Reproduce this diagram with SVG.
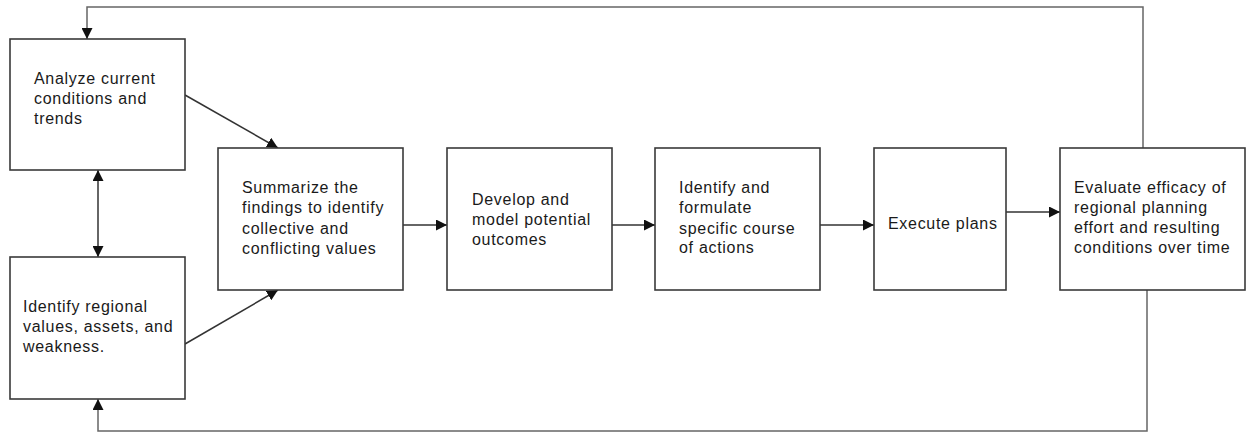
<svg xmlns="http://www.w3.org/2000/svg" width="1249" height="432" viewBox="0 0 1249 432">
<style>
.box{fill:#fff;stroke:#3a3a3a;stroke-width:1.6}
.t{font-family:"Liberation Sans",Arial,sans-serif;font-size:16px;letter-spacing:0.7px;fill:#1a1a1a}
.c{fill:none;stroke:#333;stroke-width:1.5}
.g{fill:none;stroke:#666;stroke-width:1.5}
</style>
<defs>
<marker id="ah" viewBox="0 0 10 10" refX="10" refY="5" markerWidth="11" markerHeight="11" markerUnits="userSpaceOnUse" orient="auto-start-reverse">
<path d="M0,0 L10,5 L0,10 z" fill="#111"/>
</marker>
</defs>
<g id="connectors">
<polyline class="g" points="1143,148 1143,7 87,7 87,39" marker-end="url(#ah)"/>
<polyline class="g" points="1147,290 1147,431 98,431 98,399" marker-end="url(#ah)"/>
<line class="c" x1="98" y1="170" x2="98" y2="257" marker-start="url(#ah)" marker-end="url(#ah)"/>
<line class="c" x1="185" y1="95" x2="278" y2="148" marker-end="url(#ah)"/>
<line class="c" x1="185" y1="344" x2="278" y2="290" marker-end="url(#ah)"/>
<line class="c" x1="403" y1="225" x2="447" y2="225" marker-end="url(#ah)"/>
<line class="c" x1="612" y1="225" x2="655" y2="225" marker-end="url(#ah)"/>
<line class="c" x1="820" y1="225" x2="874" y2="225" marker-end="url(#ah)"/>
<line class="c" x1="1006" y1="212" x2="1060" y2="212" marker-end="url(#ah)"/>
</g>
<g id="n1">
<rect class="box" x="10" y="39" width="175" height="131"/>
<text class="t" x="34" y="84">Analyze current</text>
<text class="t" x="34" y="104">conditions and</text>
<text class="t" x="34" y="124">trends</text>
</g>
<g id="n2">
<rect class="box" x="10" y="257" width="175" height="142"/>
<text class="t" x="23" y="312">Identify regional</text>
<text class="t" x="23" y="332">values, assets, and</text>
<text class="t" x="23" y="352">weakness.</text>
</g>
<g id="n3">
<rect class="box" x="218" y="148" width="185" height="142"/>
<text class="t" x="242" y="193">Summarize the</text>
<text class="t" x="242" y="213">findings to identify</text>
<text class="t" x="242" y="234">collective and</text>
<text class="t" x="242" y="254">conflicting values</text>
</g>
<g id="n4">
<rect class="box" x="447" y="148" width="165" height="142"/>
<text class="t" x="472" y="205">Develop and</text>
<text class="t" x="472" y="225">model potential</text>
<text class="t" x="472" y="245">outcomes</text>
</g>
<g id="n5">
<rect class="box" x="655" y="148" width="165" height="142"/>
<text class="t" x="679" y="193">Identify and</text>
<text class="t" x="679" y="213">formulate</text>
<text class="t" x="679" y="234">specific course</text>
<text class="t" x="679" y="253">of actions</text>
</g>
<g id="n6">
<rect class="box" x="874" y="148" width="132" height="142"/>
<text class="t" x="888" y="229">Execute plans</text>
</g>
<g id="n7">
<rect class="box" x="1060" y="148" width="185" height="142"/>
<text class="t" x="1074" y="193">Evaluate efficacy of</text>
<text class="t" x="1074" y="213">regional planning</text>
<text class="t" x="1074" y="233">effort and resulting</text>
<text class="t" x="1074" y="253">conditions over time</text>
</g>
</svg>
